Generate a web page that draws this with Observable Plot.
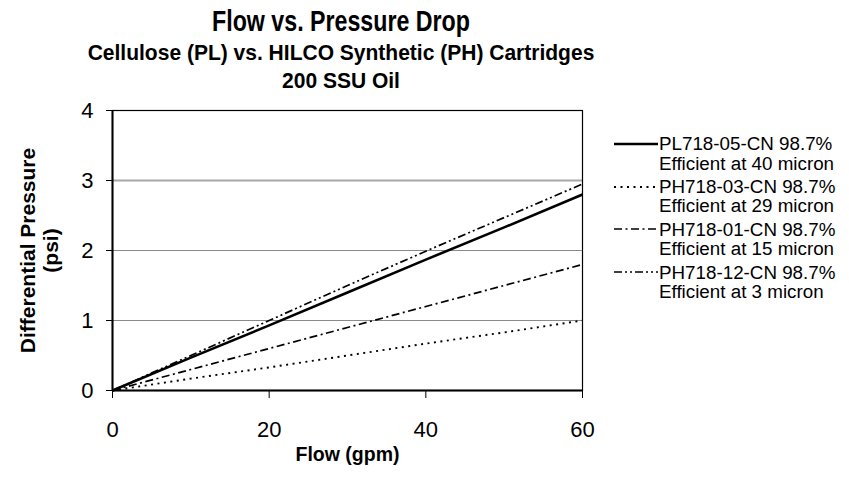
<!DOCTYPE html>
<html><head><meta charset="utf-8">
<script src="https://cdn.jsdelivr.net/npm/d3@7"></script>
<script src="https://cdn.jsdelivr.net/npm/@observablehq/plot@0.6"></script>
<style>
body{margin:0;background:#fff;font-family:"Liberation Sans",Arial,sans-serif;color:#000;}
#wrap{position:relative;width:849px;height:486px;overflow:hidden;}
.t{position:absolute;left:0;width:682px;text-align:center;font-weight:bold;white-space:nowrap;transform-origin:341px 0;}
#chart{position:absolute;left:0;top:90px;}
.lg{position:absolute;font-size:18.8px;line-height:19.3px;white-space:nowrap;}
.lgs{position:absolute;}
</style></head><body>
<div id="wrap">
  <div class="t" style="top:7px;font-size:29px;line-height:29px;transform:scaleX(0.8);">Flow vs. Pressure Drop</div>
  <div class="t" style="top:42px;font-size:22px;line-height:22px;transform:scaleX(0.955);">Cellulose (PL) vs. HILCO Synthetic (PH) Cartridges</div>
  <div class="t" style="top:70px;font-size:22px;line-height:22px;transform:scaleX(0.955);">200 SSU Oil</div>
  <div id="chart"></div>
  <div id="legend"></div>
</div>
<script>
// ---- data ----
const flow = [0, 10, 20, 30, 40, 50, 60];
const pl71805 = [0, 0.47, 0.93, 1.40, 1.87, 2.33, 2.80];
const ph71803 = [0, 0.17, 0.33, 0.50, 0.67, 0.83, 1.00];
const ph71801 = [0, 0.30, 0.60, 0.90, 1.20, 1.50, 1.80];
const ph71812 = [0, 0.50, 1.00, 1.50, 1.99, 2.47, 2.95];
const seriesNames = ["PL718-05-CN 98.7%", "PH718-03-CN 98.7%", "PH718-01-CN 98.7%", "PH718-12-CN 98.7%"];
const seriesSub = ["Efficient at 40 micron", "Efficient at 29 micron", "Efficient at 15 micron", "Efficient at 3 micron"];
const xTicks = [0, 20, 40, 60];
const yTicks = [0, 1, 2, 3, 4];
const gridTicks = [1, 2, 3];

// ---- styles ----
const seriesValues = [pl71805, ph71803, ph71801, ph71812];
const styles = [
  {strokeWidth: 2.6, strokeDasharray: null},
  {strokeWidth: 1.9, strokeDasharray: "2,4.5"},
  {strokeWidth: 1.7, strokeDasharray: "8,3.5,2,3.5"},
  {strokeWidth: 1.7, strokeDasharray: "8,3,2,3,2,3"}
];

const lineMarks = seriesValues.map((vals, i) => {
  const rows = flow.map((f, j) => ({flow: f, dp: vals[j]}));
  const o = {x: "flow", y: "dp", stroke: "#000", strokeWidth: styles[i].strokeWidth, strokeLinecap: "butt"};
  if (styles[i].strokeDasharray) o.strokeDasharray = styles[i].strokeDasharray;
  return Plot.line(rows, o);
});

const plot = Plot.plot({
  width: 849,
  height: 396,
  marginLeft: 112,
  marginRight: 267,
  marginTop: 20,
  marginBottom: 96,
  style: {fontFamily: "'Liberation Sans', Arial, sans-serif", background: "#fff", color: "#000"},
  x: {domain: [0, 60]},
  y: {domain: [0, 4]},
  marks: [
    Plot.ruleY(gridTicks.slice(0, 2), {stroke: "#8a8a8a", strokeWidth: 1.2}),
    Plot.ruleY(gridTicks.slice(2), {stroke: "#a8a8a8", strokeWidth: 2}),
    Plot.frame({stroke: "#000", strokeWidth: 1.2}),
    Plot.axisX({ticks: xTicks, tickSize: 8, tickPadding: 23, fontSize: 22, label: null, tickFormat: d => String(d), stroke: "#000"}),
    Plot.axisY({ticks: yTicks, tickSize: 6, tickPadding: 13, fontSize: 22, label: null, tickFormat: d => String(d), stroke: "#000"}),
    ...lineMarks,
    Plot.ruleX([0], {stroke: "#000", strokeWidth: 2}),
    Plot.ruleY([0], {stroke: "#000", strokeWidth: 2}),
    Plot.text(["Flow (gpm)"], {frameAnchor: "bottom", dy: 70, fontSize: 19.5, fontWeight: "bold", fill: "#000"}),
    Plot.text(["Differential Pressure\n(psi)"], {frameAnchor: "left", textAnchor: "middle", rotate: -90, dx: -73, fontSize: 21, lineHeight: 1.08, fontWeight: "bold", fill: "#000"})
  ]
});
document.getElementById("chart").appendChild(plot);

// ---- legend ----
const legend = document.getElementById("legend");
const lgTop = 144, lgStep = 42.7;
seriesNames.forEach((name, i) => {
  const cy = lgTop + i * lgStep;
  const svg = d3.create("svg").attr("class", "lgs").attr("width", 44).attr("height", 6)
    .style("left", "614px").style("top", (cy - 3) + "px");
  const ln = svg.append("line").attr("x1", 0).attr("x2", 44).attr("y1", 3).attr("y2", 3)
    .attr("stroke", "#000").attr("stroke-width", styles[i].strokeWidth);
  if (styles[i].strokeDasharray) ln.attr("stroke-dasharray", styles[i].strokeDasharray);
  legend.appendChild(svg.node());
  const div = document.createElement("div");
  div.className = "lg";
  div.style.left = "659px";
  div.style.top = (cy - 9.6) + "px";
  div.innerHTML = name + "<br>" + seriesSub[i];
  legend.appendChild(div);
});
</script>
</body></html>
